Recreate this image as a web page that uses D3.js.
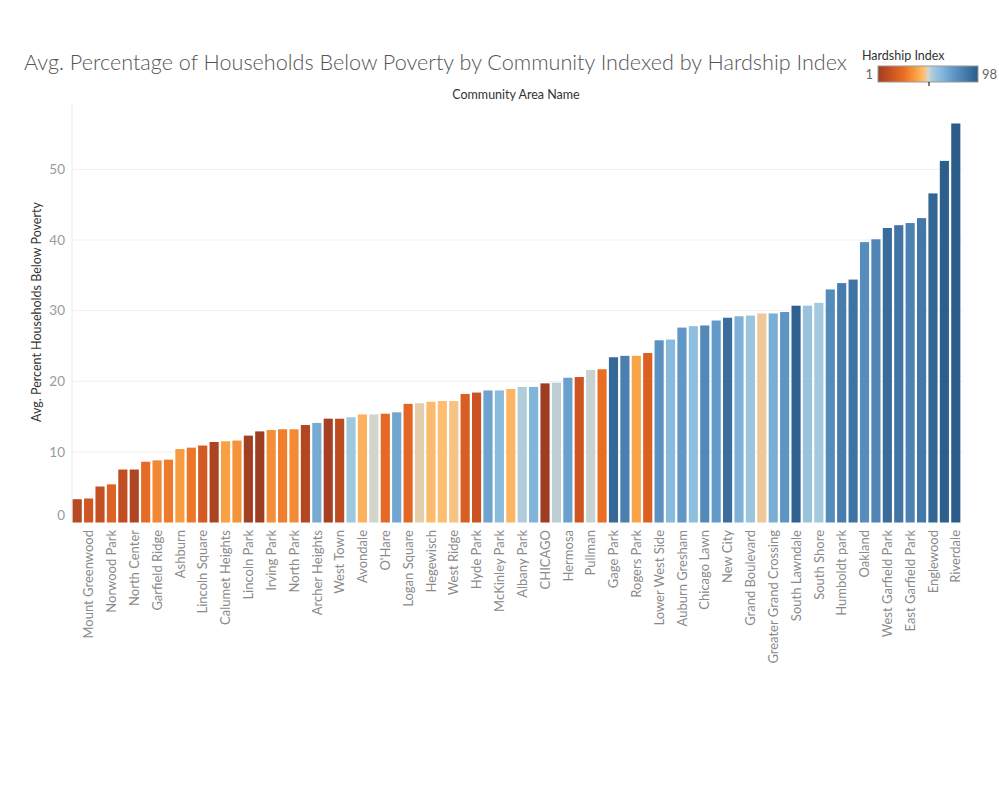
<!DOCTYPE html>
<html><head><meta charset="utf-8">
<script src="https://cdn.jsdelivr.net/npm/d3@7"></script>
<style>body{margin:0;background:#fff;} svg{display:block;}</style>
</head><body>
<script>
const communities = ["Edison Park","Mount Greenwood","Beverly","Norwood Park","Forest Glen","North Center","Jefferson Park","Garfield Ridge","Clearing","Ashburn","Dunning","Lincoln Square","Lake View","Calumet Heights","Portage Park","Lincoln Park","Near North Side","Irving Park","Morgan Park","North Park","Near South Side","Archer Heights","Loop","West Town","West Lawn","Avondale","Montclare","O'Hare","West Elsdon","Logan Square","Washington Heights","Hegewisch","Avalon Park","West Ridge","Edgewater","Hyde Park","Belmont Cragin","McKinley Park","Bridgeport","Albany Park","East Side","CHICAGO","Roseland","Hermosa","Near West Side","Pullman","Kenwood","Gage Park","Brighton Park","Rogers Park","Uptown","Lower West Side","West Pullman","Auburn Gresham","Chatham","Chicago Lawn","Austin","New City","South Deering","Grand Boulevard","Douglas","Greater Grand Crossing","South Chicago","South Lawndale","Woodlawn","South Shore","Burnside","Humboldt park","West Englewood","Oakland","Armour Square","West Garfield Park","Washington Park","East Garfield Park","North Lawndale","Englewood","Fuller Park","Riverdale"];
const povertyPct = [3.3,3.4,5.1,5.4,7.5,7.5,8.6,8.8,8.9,10.4,10.6,10.9,11.4,11.5,11.6,12.3,12.9,13.1,13.2,13.2,13.8,14.1,14.7,14.7,14.9,15.3,15.3,15.4,15.6,16.8,16.9,17.1,17.2,17.2,18.2,18.4,18.7,18.7,18.9,19.2,19.2,19.7,19.8,20.5,20.6,21.6,21.7,23.4,23.6,23.6,24.0,25.8,25.9,27.6,27.8,27.9,28.6,29.0,29.2,29.3,29.6,29.6,29.8,30.7,30.7,31.1,33.0,33.9,34.4,39.7,40.1,41.7,42.1,42.4,43.1,46.6,51.2,56.5];
const hardship = [8,16,12,21,11,6,25,32,29,37,28,17,5,38,35,2,1,34,30,33,7,67,3,10,56,42,50,24,69,23,48,44,45,46,19,14,70,61,43,53,64,null,52,71,15,51,26,93,84,39,20,76,62,74,60,80,73,91,65,57,47,66,75,96,58,55,79,85,89,78,82,92,88,83,87,94,97,98];
const yTicks = [0,10,20,30,40,50];
const legendTicks = [1,98];

const W=999,H=799;
const FONT="Lato, 'Open Sans', sans-serif";
const svg=d3.select("body").append("svg").attr("width",W).attr("height",H);
const x=d3.scaleBand().domain(communities).range([71.5,961.5]).paddingInner(0.2).paddingOuter(0.1);
const y=d3.scaleLinear().domain([0,59.4]).range([522.5,103]);
const color=d3.scaleLinear()
  .domain([1,14,26,38,45,49.5,54,62,74,86,98])
  .range(["#9e3d22","#cb5322","#ea6d24","#f9a043","#fdbe70","#d9d5c9","#a6cbdd","#88badd","#6097c6","#467aab","#2b5c8a"])
  .interpolate(d3.interpolateRgb);
const nullColor="#9e3d22";

// gridlines
svg.append("g").selectAll("line").data(yTicks.filter(d=>d>0)).join("line")
  .attr("x1",72).attr("x2",963).attr("y1",d=>y(d)).attr("y2",d=>y(d))
  .attr("stroke","#efefef").attr("stroke-width",1);
svg.append("line").attr("x1",72).attr("x2",72).attr("y1",103).attr("y2",523).attr("stroke","#ebebeb");

// y axis
const yAxis=d3.axisLeft(y).tickValues(yTicks).tickSize(0).tickPadding(7);
const ya=svg.append("g").attr("transform","translate(72,0)").call(yAxis);
ya.select(".domain").remove();
ya.selectAll("text").attr("font-family",FONT).attr("font-size",13.5).attr("fill","#9a9a9a")
  .attr("dy",d=>d===0?"-0.2em":"0.32em");

// bars
svg.append("g").selectAll("rect").data(communities).join("rect")
  .attr("x",d=>x(d)).attr("width",x.bandwidth())
  .attr("y",(d,i)=>y(povertyPct[i])).attr("height",(d,i)=>y(0)-y(povertyPct[i]))
  .attr("fill",(d,i)=>hardship[i]==null?nullColor:color(hardship[i]));

// x labels (every other)
const xAxis=d3.axisBottom(x).tickSize(0).tickValues(communities.filter((d,i)=>i%2===1));
const xa=svg.append("g").attr("transform","translate(0,523)").call(xAxis);
xa.select(".domain").remove();
xa.selectAll("text").attr("font-family",FONT).attr("font-size",13).attr("fill","#8a8a8a")
  .attr("transform","rotate(-90)").attr("text-anchor","end").attr("x",-7).attr("y",0).attr("dy","0.36em");

// titles
svg.append("text").attr("x",24).attr("y",70).attr("font-family",FONT).attr("font-size",21).attr("font-weight",300)
  .attr("fill","#555").attr("textLength",823).attr("lengthAdjust","spacingAndGlyphs")
  .text("Avg. Percentage of Households Below Poverty by Community Indexed by Hardship Index");
svg.append("text").attr("x",516).attr("y",99).attr("text-anchor","middle").attr("font-family",FONT)
  .attr("font-size",12.5).attr("fill","#333").text("Community Area Name");
svg.append("text").attr("transform","translate(41,312) rotate(-90)").attr("text-anchor","middle")
  .attr("font-family",FONT).attr("font-size",12.5).attr("fill","#333")
  .text("Avg. Percent Households Below Poverty");

// legend
const lg=svg.append("g");
lg.append("text").attr("x",862).attr("y",60).attr("font-family",FONT).attr("font-size",12.5).attr("fill","#333").text("Hardship Index");
const defs=svg.append("defs");
const grad=defs.append("linearGradient").attr("id","hg");
const lx=d3.scaleLinear().domain([1,98]).range([0,1]);
color.domain().forEach((v,i)=>grad.append("stop").attr("offset",lx(v)).attr("stop-color",color.range()[i]));
lg.append("rect").attr("x",878).attr("y",66).attr("width",100).attr("height",16).attr("fill","url(#hg)").attr("stroke","#999").attr("stroke-width",1);
lg.append("line").attr("x1",929).attr("x2",929).attr("y1",82).attr("y2",86).attr("stroke","#000");
lg.append("text").attr("x",873).attr("y",79).attr("text-anchor","end").attr("font-family",FONT).attr("font-size",13).attr("fill","#666").text(legendTicks[0]);
lg.append("text").attr("x",982).attr("y",79).attr("font-family",FONT).attr("font-size",13).attr("fill","#666").text(legendTicks[1]);
</script>
</body></html>
